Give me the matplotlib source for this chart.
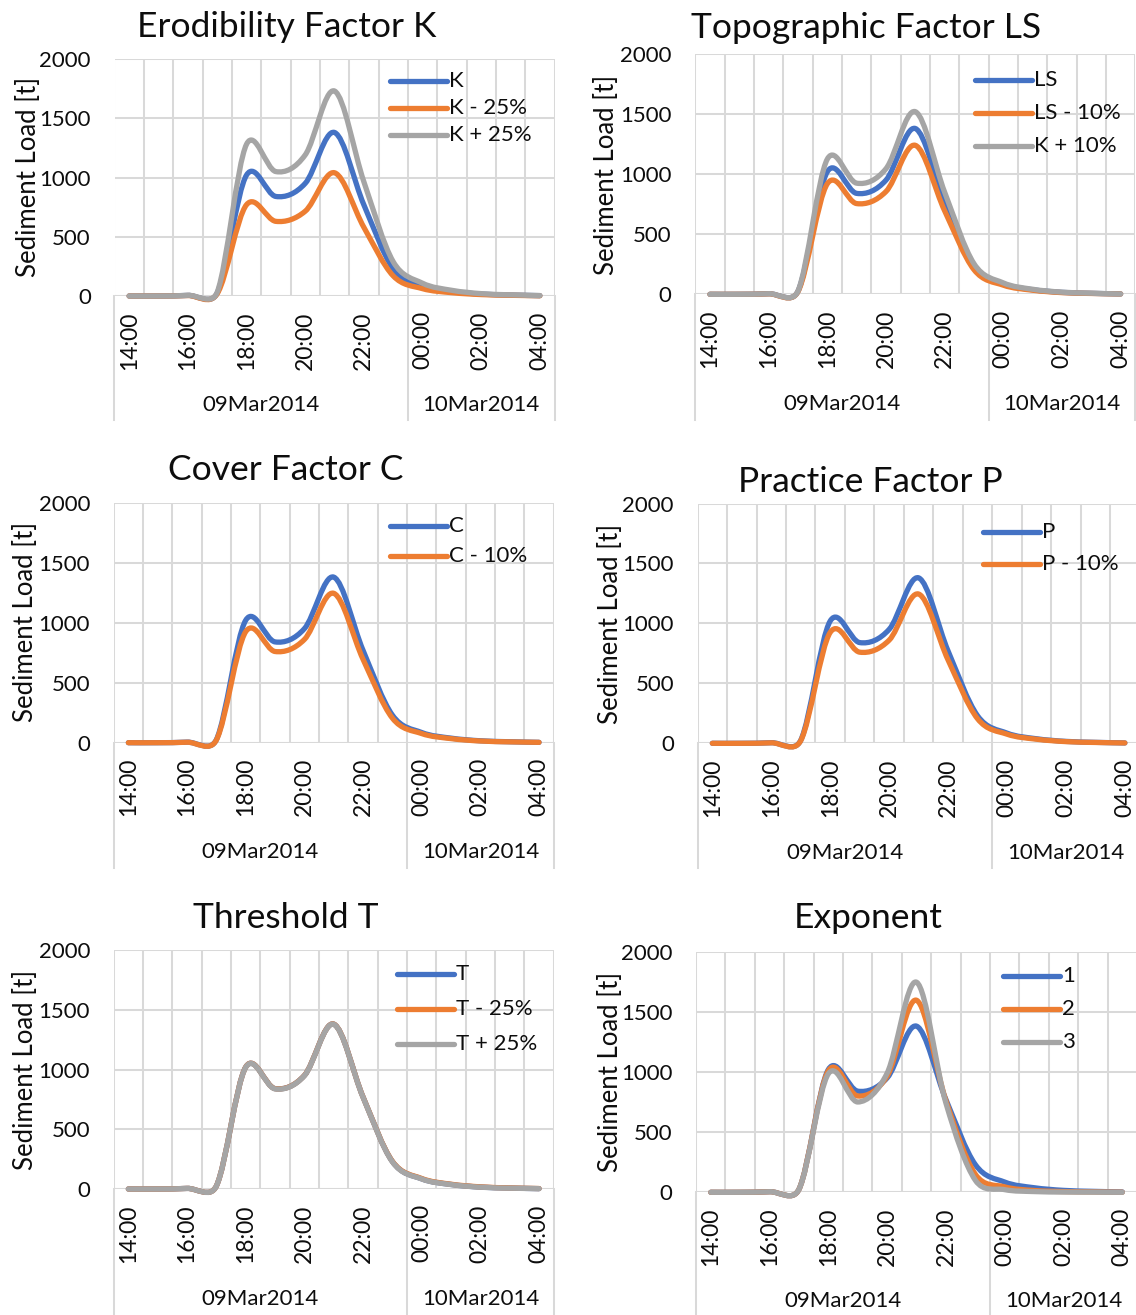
import numpy as np
import matplotlib
matplotlib.use("Agg")
import matplotlib.pyplot as plt
from matplotlib.path import Path
from matplotlib.patches import PathPatch
from matplotlib.lines import Line2D
import matplotlib.transforms as mtransforms

plt.rcParams['font.family'] = ['Lato', 'DejaVu Sans']

# ---------------- data ----------------
hours = ['14:00', '15:00', '16:00', '17:00', '18:00', '19:00', '20:00', '21:00',
         '22:00', '23:00', '00:00', '01:00', '02:00', '03:00', '04:00']
tick_labels = ['14:00', '16:00', '18:00', '20:00', '22:00', '00:00', '02:00', '04:00']
dates = ['09Mar2014', '10Mar2014']
date_counts = [10, 5]

k_base = [0, 0, 5, 25, 1020, 840, 950, 1380, 770, 230, 85, 38, 16, 8, 3]
k_minus25 = [0, 0, 4, 19, 770, 630, 715, 1040, 580, 170, 62, 28, 12, 6, 2]
k_plus25 = [0, 0, 6, 31, 1280, 1050, 1190, 1730, 965, 290, 108, 48, 20, 10, 4]

ls_base = [0, 0, 5, 25, 1020, 840, 950, 1380, 770, 230, 85, 38, 16, 8, 3]
ls_minus10 = [0, 0, 4, 22, 920, 755, 855, 1240, 695, 205, 76, 34, 14, 7, 3]
ls_plus10 = [0, 0, 5, 27, 1125, 925, 1045, 1520, 850, 255, 95, 42, 18, 9, 3]

c_base = [0, 0, 5, 25, 1020, 840, 950, 1380, 770, 230, 85, 38, 16, 8, 3]
c_minus10 = [0, 0, 4, 22, 925, 760, 860, 1245, 695, 205, 76, 34, 14, 7, 3]

p_base = [0, 0, 5, 25, 1020, 840, 950, 1380, 770, 230, 85, 38, 16, 8, 3]
p_minus10 = [0, 0, 4, 22, 925, 760, 860, 1245, 695, 205, 76, 34, 14, 7, 3]

t_base = [0, 0, 5, 25, 1020, 840, 950, 1380, 770, 230, 85, 38, 16, 8, 3]
t_minus25 = [0, 0, 5, 25, 1020, 840, 950, 1380, 770, 232, 88, 40, 18, 9, 4]
t_plus25 = [0, 0, 5, 25, 1018, 838, 948, 1378, 768, 228, 84, 37, 15, 7, 3]

exp_1 = [0, 0, 5, 25, 1020, 840, 950, 1380, 770, 230, 85, 38, 16, 8, 3]
exp_2 = [0, 0, 5, 25, 1010, 800, 965, 1595, 760, 150, 45, 15, 6, 3, 1]
exp_3 = [0, 0, 5, 25, 985, 750, 990, 1745, 740, 100, 22, 6, 2, 1, 0]

COLORS = ['#4472C4', '#ED7D31', '#A5A5A5']
GRID = '#D9D9D9'
TXT = '#0d0d0d'

W, H = 1136, 1315
fig = plt.figure(figsize=(W / 100, H / 100), dpi=100)

# layout in pixels: plot rect (l, r, t, b), title centre, ylabel centre,
# date label y, extension bottom, legend (x0, y0, dy)
panels = [
    dict(title='Erodibility Factor K', labels=['K', 'K - 25%', 'K + 25%'],
         series=[k_base, k_minus25, k_plus25],
         rect=(114.5, 554.5, 59, 296), tpos=(287, 27), ylab=(29, 177),
         datey=405, ext=420, leg=(390, 81, 27)),
    dict(title='Topographic Factor LS', labels=['LS', 'LS - 10%', 'K + 10%'],
         series=[ls_base, ls_minus10, ls_plus10],
         rect=(695.3, 1135.3, 54, 294.3), tpos=(866, 28), ylab=(607, 175),
         datey=404, ext=420, leg=(975, 80, 33)),
    dict(title='Cover Factor C', labels=['C', 'C - 10%'],
         series=[c_base, c_minus10],
         rect=(113.7, 553.7, 502.7, 742.7), tpos=(286, 470), ylab=(26, 622),
         datey=852, ext=868, leg=(390, 526, 30)),
    dict(title='Practice Factor P', labels=['P', 'P - 10%'],
         series=[p_base, p_minus10],
         rect=(697.6, 1139.6, 503.5, 743.3), tpos=(870, 482), ylab=(610, 624),
         datey=853, ext=868, leg=(983, 532, 32)),
    dict(title='Threshold T', labels=['T', 'T - 25%', 'T + 25%'],
         series=[t_base, t_minus25, t_plus25],
         rect=(113.7, 553.7, 950, 1189), tpos=(286, 918), ylab=(26, 1070),
         datey=1299, ext=1315, leg=(397, 974, 35)),
    dict(title='Exponent', labels=['1', '2', '3'],
         series=[exp_1, exp_2, exp_3],
         rect=(696.1, 1137, 951.5, 1192.3), tpos=(868, 918), ylab=(610, 1072),
         datey=1301, ext=1315, leg=(1003, 976, 33)),
]


def smooth_path(ax, xs, ys):
    """Excel-like smoothed line: cubic Bezier through the points."""
    pts = ax.transData.transform(np.column_stack([xs, ys]).astype(float))
    n = len(pts)
    verts = [pts[0]]
    codes = [Path.MOVETO]
    for i in range(n - 1):
        p0 = pts[i - 1] if i > 0 else pts[i]
        p1 = pts[i]
        p2 = pts[i + 1]
        p3 = pts[i + 2] if i + 2 < n else pts[i + 1]
        d12 = np.hypot(*(p2 - p1))
        d02 = np.hypot(*(p2 - p0))
        d13 = np.hypot(*(p3 - p1))
        f1 = 1 / 6 if d02 / 6 < d12 / 2 else (d12 / (2 * d02) if d02 > 0 else 0)
        f2 = 1 / 6 if d13 / 6 < d12 / 2 else (d12 / (2 * d13) if d13 > 0 else 0)
        verts += [p1 + (p2 - p0) * f1, p2 - (p3 - p1) * f2, p2]
        codes += [Path.CURVE4] * 3
    verts = ax.transData.inverted().transform(np.array(verts))
    return Path(verts, codes)


x = np.arange(len(hours))
LW = 3.8
FS = 16

for p in panels:
    l, r, t, b = p['rect']
    ax = fig.add_axes([l / W, 1 - b / H, (r - l) / W, (b - t) / H])
    ax.set_xlim(-0.5, len(hours) - 0.5)
    ax.set_ylim(0, 2000)
    ax.set_yticks(np.arange(0, 2001, 500))
    ax.set_xticks(x[::2])
    ax.set_xticklabels(tick_labels, rotation=90)
    ax.set_xticks(np.arange(-0.5, len(hours), 1), minor=True)
    ax.tick_params(axis='x', which='both', length=0, pad=11, labelsize=16.5, labelcolor=TXT)
    ax.tick_params(axis='y', which='both', length=0, pad=17, labelsize=FS, labelcolor=TXT)
    ax.grid(True, axis='y', which='major', color=GRID, lw=1.45)
    ax.grid(True, axis='x', which='minor', color=GRID, lw=1.45)
    ax.set_axisbelow(True)
    for s in ax.spines.values():
        s.set_visible(False)
    hpx = b - t
    wpx = r - l
    ax.axhline(0, color=GRID, lw=1.45, zorder=0.5)

    # multi-level category axis separators
    trans = mtransforms.blended_transform_factory(ax.transData, ax.transAxes)
    ext = -(p['ext'] - b) / hpx
    bounds = [-0.5, date_counts[0] - 0.5, len(hours) - 0.5]
    for bx in bounds:
        ax.add_line(Line2D([bx, bx], [0, ext], transform=trans, color=GRID,
                           lw=1.45, clip_on=False))
    start = 0
    dy = -(p['datey'] - b) / hpx
    for d, cnt in zip(dates, date_counts):
        cx = start + (cnt - 1) / 2
        ax.text(cx, dy, d, transform=trans, ha='center', va='center',
                fontsize=FS, color=TXT)
        start += cnt

    # data lines
    for vals, col in zip(p['series'], COLORS):
        path = smooth_path(ax, x, vals)
        patch = PathPatch(path, facecolor='none', edgecolor=col, lw=LW,
                          capstyle='round', joinstyle='round', zorder=3,
                          clip_on=False)
        ax.add_patch(patch)

    # title
    tx, ty = p['tpos']
    ax.set_title(p['title'], x=(tx - l) / wpx, y=(b - ty) / hpx, pad=0,
                 ha='center', va='center', fontsize=25.5, color=TXT)
    # y label
    yx, yy = p['ylab']
    ax.set_ylabel('Sediment Load [t]', fontsize=18.5, color=TXT,
                  ha='center', va='center')
    ax.yaxis.set_label_coords((yx - l) / wpx, (b - yy) / hpx)

    # legend (manual, frameless)
    lx, ly, ldy = p['leg']
    for i, (lab, col) in enumerate(zip(p['labels'], COLORS)):
        yy_ = ly + i * ldy
        fig.add_artist(Line2D([lx / W, (lx + 57) / W], [1 - yy_ / H, 1 - yy_ / H],
                              transform=fig.transFigure, color=col, lw=LW,
                              solid_capstyle='round', zorder=5))
        fig.text((lx + 59) / W, 1 - yy_ / H, lab, ha='left', va='center',
                 fontsize=FS, color=TXT)

fig.savefig('out.png', dpi=100)
